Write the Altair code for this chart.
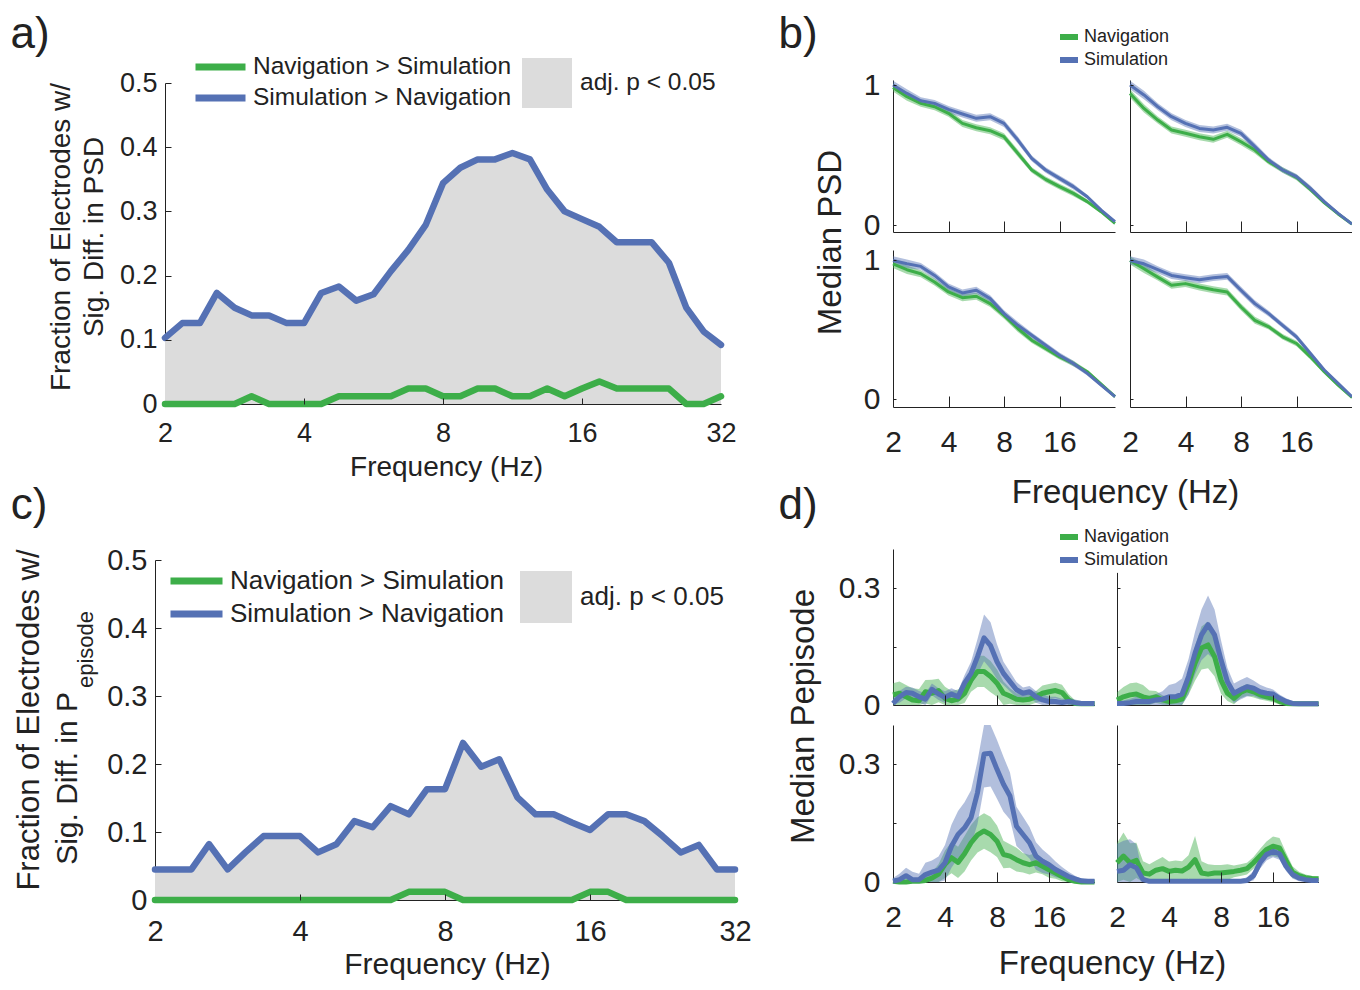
import altair as alt
import pandas as pd

FONT = "Liberation Sans"
INK = "#222222"
GREEN = "#3DAE49"
BLUE = "#5571B4"
SIGFILL = "#DCDCDC"
W, H, M = 1344, 974, 8

# ---------------- data ----------------
FREQ_8 = [2.00, 2.18, 2.38, 2.59, 2.83, 3.08, 3.36, 3.67, 4.00, 4.36, 4.76, 5.19, 5.66,
          6.17, 6.73, 7.34, 8.00, 8.72, 9.51, 10.37, 11.31, 12.34, 13.45, 14.67, 16.00,
          17.45, 19.03, 20.75, 22.63, 24.68, 26.91, 29.34, 32.00]
FREQ_4 = [2.00, 2.38, 2.83, 3.36, 4.00, 4.76, 5.66, 6.73, 8.00, 9.51, 11.31, 13.45,
          16.00, 19.03, 22.63, 26.91, 32.00]
FREQ_D = FREQ_8[:32]

NS = "Navigation > Simulation"
SN = "Simulation > Navigation"
SIG = "adj. p < 0.05"
CONDS = ["Navigation", "Simulation"]

# panel a: fraction of electrodes, PSD
a_sim = [0.103, 0.126, 0.126, 0.173, 0.150, 0.138, 0.138, 0.126, 0.126, 0.173, 0.183,
         0.161, 0.171, 0.207, 0.240, 0.279, 0.344, 0.368, 0.381, 0.381, 0.391, 0.381,
         0.334, 0.300, 0.288, 0.276, 0.252, 0.252, 0.252, 0.220, 0.150, 0.113, 0.092]
a_nav = [0, 0, 0, 0, 0, 0.012, 0, 0, 0, 0, 0.012, 0.012, 0.012, 0.012, 0.024, 0.024,
         0.012, 0.012, 0.024, 0.024, 0.012, 0.012, 0.024, 0.012, 0.024, 0.035, 0.024,
         0.024, 0.024, 0.024, 0, 0, 0.012]

# panel c: fraction of electrodes, Pepisode
c_sim = [0.045, 0.045, 0.045, 0.082, 0.045, 0.070, 0.094, 0.094, 0.094, 0.070, 0.082,
         0.116, 0.107, 0.138, 0.126, 0.163, 0.163, 0.231, 0.196, 0.207, 0.151, 0.126,
         0.126, 0.114, 0.103, 0.126, 0.126, 0.116, 0.094, 0.070, 0.081, 0.045, 0.045]
c_nav = [0, 0, 0, 0, 0, 0, 0, 0, 0, 0, 0, 0, 0, 0, 0.012, 0.012, 0.012, 0, 0, 0, 0, 0,
         0, 0, 0.012, 0.012, 0, 0, 0, 0, 0, 0, 0]

# panel b: median PSD (4 example electrodes)
b_tl_nav = [0.983, 0.917, 0.869, 0.845, 0.798, 0.726, 0.695, 0.674, 0.631, 0.512, 0.393,
            0.326, 0.274, 0.226, 0.167, 0.095, 0.012]
b_tl_sim = [1.000, 0.940, 0.888, 0.869, 0.826, 0.793, 0.762, 0.774, 0.726, 0.607, 0.476,
            0.393, 0.333, 0.274, 0.202, 0.107, 0.024]
b_tr_nav = [0.940, 0.833, 0.750, 0.679, 0.655, 0.631, 0.612, 0.648, 0.595, 0.536, 0.452,
            0.393, 0.340, 0.255, 0.160, 0.079, 0.007]
b_tr_sim = [1.000, 0.929, 0.845, 0.774, 0.726, 0.690, 0.679, 0.698, 0.655, 0.560, 0.464,
            0.393, 0.345, 0.262, 0.167, 0.083, 0.007]
b_bl_nav = [0.976, 0.933, 0.904, 0.845, 0.773, 0.732, 0.742, 0.689, 0.605, 0.510, 0.426,
            0.366, 0.306, 0.258, 0.199, 0.110, 0.019]
b_bl_sim = [1.000, 0.976, 0.957, 0.892, 0.809, 0.766, 0.785, 0.725, 0.617, 0.533, 0.462,
            0.390, 0.318, 0.258, 0.187, 0.103, 0.019]
b_br_nav = [1.000, 0.940, 0.880, 0.821, 0.833, 0.809, 0.789, 0.773, 0.665, 0.569, 0.522,
            0.450, 0.402, 0.306, 0.199, 0.103, 0.014]
b_br_sim = [1.000, 0.976, 0.933, 0.892, 0.876, 0.861, 0.876, 0.885, 0.785, 0.689, 0.617,
            0.533, 0.450, 0.330, 0.211, 0.115, 0.019]
b_err = [0.030, 0.030, 0.025, 0.025, 0.025, 0.025, 0.025, 0.025, 0.025, 0.025, 0.020,
         0.020, 0.020, 0.020, 0.015, 0.012, 0.010]

# panel d: median Pepisode (4 example electrodes)
d_tl_sim = [0.004, 0.021, 0.032, 0.030, 0.021, 0.015, 0.040, 0.028, 0.020, 0.028, 0.021,
            0.056, 0.081, 0.124, 0.172, 0.152, 0.111, 0.081, 0.060, 0.039, 0.030, 0.034,
            0.021, 0.013, 0.009, 0.009, 0.006, 0.009, 0.006, 0.004, 0.004, 0.004]
d_tl_nav = [0.026, 0.030, 0.021, 0.013, 0.011, 0.034, 0.030, 0.037, 0.017, 0.011, 0.015,
            0.030, 0.064, 0.086, 0.086, 0.073, 0.056, 0.030, 0.023, 0.015, 0.013, 0.015,
            0.021, 0.030, 0.034, 0.037, 0.032, 0.013, 0.004, 0.003, 0.003, 0.003]
d_tr_sim = [0.004, 0.004, 0.006, 0.009, 0.009, 0.009, 0.013, 0.015, 0.021, 0.021, 0.028,
            0.073, 0.133, 0.180, 0.206, 0.180, 0.116, 0.060, 0.030, 0.039, 0.047, 0.043,
            0.034, 0.030, 0.028, 0.017, 0.009, 0.004, 0.003, 0.003, 0.003, 0.003]
d_tr_nav = [0.013, 0.021, 0.026, 0.028, 0.021, 0.017, 0.021, 0.013, 0.009, 0.011, 0.015,
            0.056, 0.107, 0.146, 0.154, 0.124, 0.064, 0.030, 0.017, 0.032, 0.039, 0.034,
            0.026, 0.021, 0.017, 0.009, 0.004, 0.003, 0.003, 0.003, 0.003, 0.003]
d_bl_sim = [0.002, 0.006, 0.016, 0.006, 0.006, 0.019, 0.025, 0.030, 0.049, 0.091, 0.121,
            0.138, 0.164, 0.228, 0.326, 0.328, 0.287, 0.249, 0.219, 0.142, 0.121, 0.100,
            0.066, 0.053, 0.044, 0.032, 0.023, 0.014, 0.008, 0.003, 0.002, 0.002]
d_bl_nav = [0.002, 0.000, 0.000, 0.002, 0.002, 0.004, 0.010, 0.020, 0.045, 0.062, 0.050,
            0.072, 0.100, 0.120, 0.130, 0.121, 0.104, 0.070, 0.066, 0.057, 0.049, 0.044,
            0.049, 0.040, 0.031, 0.023, 0.014, 0.006, 0.002, 0.000, 0.000, 0.000]
d_br_sim = [0.027, 0.030, 0.044, 0.036, 0.006, 0.002, 0.002, 0.002, 0.002, 0.002, 0.002,
            0.002, 0.002, 0.002, 0.002, 0.002, 0.002, 0.002, 0.002, 0.002, 0.004, 0.016,
            0.049, 0.070, 0.078, 0.072, 0.040, 0.019, 0.010, 0.006, 0.004, 0.004]
d_br_nav = [0.049, 0.066, 0.049, 0.055, 0.023, 0.020, 0.030, 0.034, 0.027, 0.030, 0.028,
            0.038, 0.057, 0.023, 0.020, 0.023, 0.023, 0.025, 0.027, 0.030, 0.034, 0.049,
            0.066, 0.083, 0.091, 0.087, 0.055, 0.025, 0.016, 0.011, 0.009, 0.008]

d_tl_sim_err = [0.015, 0.015, 0.015, 0.015, 0.015, 0.015, 0.015, 0.015, 0.015, 0.015, 0.015,
                0.020, 0.030, 0.045, 0.060, 0.060, 0.045, 0.030, 0.025, 0.020, 0.015, 0.015,
                0.015, 0.015, 0.012, 0.012, 0.010, 0.010, 0.008, 0.006, 0.006, 0.006]
d_tl_nav_err = [0.030, 0.030, 0.030, 0.030, 0.030, 0.030, 0.035, 0.030, 0.030, 0.025, 0.025,
                0.025, 0.030, 0.040, 0.040, 0.040, 0.035, 0.030, 0.020, 0.015, 0.015, 0.015,
                0.015, 0.020, 0.020, 0.020, 0.020, 0.015, 0.008, 0.005, 0.005, 0.005]
d_tr_sim_err = [0.008, 0.008, 0.010, 0.012, 0.015, 0.015, 0.015, 0.020, 0.030, 0.035, 0.040,
                0.045, 0.055, 0.065, 0.075, 0.065, 0.050, 0.035, 0.025, 0.025, 0.025, 0.020,
                0.018, 0.015, 0.012, 0.010, 0.008, 0.006, 0.005, 0.005, 0.005, 0.005]
d_tr_nav_err = [0.020, 0.025, 0.030, 0.030, 0.030, 0.020, 0.015, 0.012, 0.010, 0.010, 0.015,
                0.030, 0.045, 0.055, 0.060, 0.050, 0.035, 0.020, 0.015, 0.015, 0.015, 0.015,
                0.012, 0.010, 0.010, 0.008, 0.006, 0.005, 0.005, 0.005, 0.005, 0.005]
d_bl_sim_err = [0.008, 0.015, 0.020, 0.020, 0.015, 0.030, 0.030, 0.035, 0.045, 0.055, 0.060,
                0.065, 0.070, 0.080, 0.085, 0.085, 0.075, 0.070, 0.060, 0.050, 0.045, 0.040,
                0.035, 0.030, 0.025, 0.020, 0.015, 0.012, 0.008, 0.005, 0.005, 0.005]
d_bl_nav_err = [0.005, 0.005, 0.005, 0.005, 0.005, 0.008, 0.015, 0.025, 0.035, 0.040, 0.040,
                0.045, 0.045, 0.045, 0.045, 0.045, 0.040, 0.035, 0.030, 0.030, 0.025, 0.025,
                0.025, 0.020, 0.020, 0.015, 0.012, 0.010, 0.006, 0.004, 0.004, 0.004]
d_br_sim_err = [0.070, 0.075, 0.065, 0.060, 0.010, 0.004, 0.004, 0.004, 0.004, 0.004, 0.004,
                0.004, 0.004, 0.004, 0.004, 0.004, 0.004, 0.004, 0.004, 0.005, 0.008, 0.012,
                0.015, 0.015, 0.015, 0.015, 0.012, 0.010, 0.008, 0.006, 0.005, 0.005]
d_br_nav_err = [0.050, 0.060, 0.050, 0.045, 0.030, 0.025, 0.025, 0.030, 0.025, 0.025, 0.025,
                0.030, 0.060, 0.030, 0.025, 0.020, 0.020, 0.020, 0.015, 0.015, 0.015, 0.015,
                0.018, 0.020, 0.025, 0.025, 0.020, 0.015, 0.010, 0.008, 0.006, 0.006]


# ---------------- helpers ----------------
def xs(x0, x1, dmax):
    return alt.Scale(type="log", base=2, domain=[2, dmax], range=[x0 - M, x1 - M], nice=False)


def ys(y0, y1, dom, clamp=False):
    return alt.Scale(type="linear", domain=dom, range=[y0 - M, y1 - M], nice=False,
                     zero=False, clamp=clamp)


BASE = dict(grid=False, labelFont=FONT, labelColor=INK, titleFont=FONT, titleColor=INK,
            titleFontWeight="normal", domainColor=INK, tickColor=INK, domainWidth=1,
            tickWidth=1, labelFlush=False, labelOverlap=False)


def x_label_axis(axis_y, values, size, pad, labels=True, title=None, tpos=None, tsize=None):
    kw = dict(BASE, orient="bottom", offset=(axis_y - M) - H, values=values, ticks=False,
              tickSize=0, labels=labels, labelFontSize=size, labelPadding=pad,
              labelBaseline="middle", format="d", domain=True, zindex=0)
    if title:
        kw.update(title=title, titleX=tpos[0] - M, titleY=tpos[1] - axis_y, titleFontSize=tsize,
                  titleAlign="center", titleBaseline="middle", titleAngle=0)
    else:
        kw["title"] = None
    return alt.Axis(**kw)


def x_tick_axis(axis_y, values, size):
    return alt.Axis(**dict(BASE, orient="top", offset=-(axis_y - M), values=values, ticks=True,
                           tickSize=size, labels=False, domain=False, title=None, zindex=1))


def y_label_axis(axis_x, values, size, pad, labels=True, title=None, tpos=None, tsize=None):
    kw = dict(BASE, orient="left", offset=-(axis_x - M), values=values, ticks=False,
              tickSize=0, labels=labels, labelFontSize=size, labelPadding=pad,
              format="~g", domain=True, zindex=0)
    if title:
        kw.update(title=title, titleX=tpos[0] - axis_x, titleY=tpos[1] - M, titleFontSize=tsize,
                  titleAlign="center", titleBaseline="middle", titleAngle=270)
    else:
        kw["title"] = None
    return alt.Axis(**kw)


def y_tick_axis(axis_x, values, size):
    return alt.Axis(**dict(BASE, orient="right", offset=(axis_x - M) - W, values=values,
                           ticks=True, tickSize=size, labels=False, domain=False, title=None,
                           zindex=1))


def text_layer(txt, x, y, size, angle=0, align="center"):
    return alt.Chart(pd.DataFrame({"t": [txt]})).mark_text(
        font=FONT, fontSize=size, color=INK, angle=angle, align=align, baseline="middle"
    ).encode(text="t:N", x=alt.value(x - M), y=alt.value(y - M))


def line_legend(x, y, swatch, lw, rowh, fsize, loff):
    return alt.Legend(orient="none", legendX=x - M, legendY=y - M, title=None,
                      symbolType="stroke", symbolSize=swatch * swatch, symbolStrokeWidth=lw,
                      clipHeight=rowh, labelFont=FONT, labelFontSize=fsize, labelColor=INK,
                      labelOffset=loff, labelLimit=500, padding=0, rowPadding=0,
                      symbolOpacity=1)


def fill_legend(x, y, box, fsize, loff):
    return alt.Legend(orient="none", legendX=x - M, legendY=y - M, title=None,
                      symbolType="square", symbolSize=box * box, symbolStrokeWidth=0,
                      labelFont=FONT, labelFontSize=fsize, labelColor=INK, labelOffset=loff,
                      labelLimit=500, padding=0, symbolOpacity=1)


def sig_panel(freq, sim, nav, box, tick_font, xpad, tpos, tsize, lw, lleg, fleg):
    x0, x1, y0, y1 = box
    xsc = xs(x0, x1, 32)
    ysc = ys(y0, y1, [0, 0.5])
    df_area = pd.DataFrame({"f": freq, "v": sim, "sig": [SIG] * len(freq)})
    df_lines = pd.DataFrame({
        "f": freq + freq,
        "v": nav + sim,
        "s": [NS] * len(freq) + [SN] * len(freq),
    })
    area = alt.Chart(df_area).mark_area(opacity=1).encode(
        x=alt.X("f:Q", scale=xsc,
                axis=x_label_axis(y0, [2, 4, 8, 16, 32], tick_font, xpad, True,
                                  "Frequency (Hz)", tpos, tsize)),
        y=alt.Y("v:Q", scale=ysc, stack=None,
                axis=y_label_axis(x0, [0, 0.1, 0.2, 0.3, 0.4, 0.5], tick_font, 8)),
        y2=alt.Y2Datum(0),
        color=alt.Color("sig:N", scale=alt.Scale(domain=[SIG], range=[SIGFILL]), legend=fleg),
    )
    lines = alt.Chart(df_lines).mark_line(strokeWidth=lw, strokeJoin="round",
                                          strokeCap="round").encode(
        x=alt.X("f:Q", scale=xsc, axis=x_tick_axis(y0, [4, 8, 16], 6)),
        y=alt.Y("v:Q", scale=ysc, axis=y_tick_axis(x0, [0.1, 0.2, 0.3, 0.4, 0.5], 6)),
        color=alt.Color("s:N", scale=alt.Scale(domain=[NS, SN], range=[GREEN, BLUE]),
                        legend=lleg),
    )
    return [area, lines]


def small_panel(freq, nav, sim, nav_err, sim_err, xsc, ysc, xl, xt, yl, yt, lw, leg=None):
    rows = []
    for cond, vals, errs in (("Navigation", nav, nav_err), ("Simulation", sim, sim_err)):
        for f, v, e in zip(freq, vals, errs):
            rows.append({"f": f, "v": v, "lo": max(v - e, 0.0), "hi": v + e, "cond": cond})
    df = pd.DataFrame(rows)
    cs = alt.Scale(domain=CONDS, range=[GREEN, BLUE])
    band = alt.Chart(df).mark_area(opacity=0.45).encode(
        x=alt.X("f:Q", scale=xsc, axis=xl),
        y=alt.Y("lo:Q", scale=ysc, stack=None, axis=yl),
        y2="hi:Q",
        color=alt.Color("cond:N", scale=cs, legend=None),
    )
    line = alt.Chart(df).mark_line(strokeWidth=lw, strokeJoin="round").encode(
        x=alt.X("f:Q", scale=xsc, axis=xt),
        y=alt.Y("v:Q", scale=ysc, axis=yt),
        color=alt.Color("cond:N", scale=cs, legend=leg),
    )
    return [band, line]


layers = []

# ---------------- panel a ----------------
layers += sig_panel(FREQ_8, a_sim, a_nav, (165, 721, 404, 83), 27, 29, (446, 467), 28, 6.5,
                    line_legend(192, 51.5, 50, 7, 31, 24.5, 4),
                    fill_legend(522, 58, 50, 24.5, 8))

# ---------------- panel c ----------------
layers += sig_panel(FREQ_8, c_sim, c_nav, (155, 735, 900, 560), 29, 31, (447, 964), 30, 6.5,
                    line_legend(167, 564.5, 52, 7, 33, 26, 4),
                    fill_legend(520, 571, 52, 26, 8))

# ---------------- panel b ----------------
B_COLS = [(893, 1115), (1130, 1352)]
B_ROWS = [(232, 80, [-0.05, 1.036]), (407, 250, [-0.055, 1.075])]
b_series = [[(b_tl_nav, b_tl_sim), (b_tr_nav, b_tr_sim)],
            [(b_bl_nav, b_bl_sim), (b_br_nav, b_br_sim)]]
for r, (ry0, ry1, rdom) in enumerate(B_ROWS):
    for c, (cx0, cx1) in enumerate(B_COLS):
        nav, sim = b_series[r][c]
        xsc = xs(cx0, cx1, 32)
        ysc = ys(ry0, ry1, rdom)
        xl = x_label_axis(ry0, [2, 4, 8, 16], 30, 35, labels=(r == 1),
                          title=("Frequency (Hz)" if (r == 1 and c == 0) else None),
                          tpos=(1125, 492), tsize=33)
        xt = x_tick_axis(ry0, [4, 8, 16], 11)
        yl = y_label_axis(cx0, [0, 1], 30, 13, labels=(c == 0),
                          title=("Median PSD" if (r == 0 and c == 0) else None),
                          tpos=(830, 242), tsize=33)
        yt = y_tick_axis(cx0, [0, 1], 3)
        leg = line_legend(1057, 25.5, 18, 6, 23, 18, 3) if (r == 0 and c == 0) else None
        layers += small_panel(FREQ_4, nav, sim, b_err, b_err, xsc, ysc, xl, xt, yl, yt, 3, leg)

# ---------------- panel d ----------------
D_COLS = [(893, 1094.5), (1117, 1318.5)]
d_series = [[(d_tl_nav, d_tl_sim, d_tl_nav_err, d_tl_sim_err, 705, 549, 0.4),
             (d_tr_nav, d_tr_sim, d_tr_nav_err, d_tr_sim_err, 705, 572.4, 0.34)],
            [(d_bl_nav, d_bl_sim, d_bl_nav_err, d_bl_sim_err, 882, 725, 0.4),
             (d_br_nav, d_br_sim, d_br_nav_err, d_br_sim_err, 882, 725, 0.4)]]
for r in range(2):
    for c, (cx0, cx1) in enumerate(D_COLS):
        nav, sim, ne, se, ry0, ry1, ymax = d_series[r][c]
        xsc = xs(cx0, cx1, 29.34)
        ysc = ys(ry0, ry1, [0, ymax], clamp=True)
        xl = x_label_axis(ry0, [2, 4, 8, 16], 30, 35, labels=(r == 1),
                          title=("Frequency (Hz)" if (r == 1 and c == 0) else None),
                          tpos=(1112, 963), tsize=33)
        xt = x_tick_axis(ry0, [4, 8, 16], 10)
        yl = y_label_axis(cx0, [0, 0.3], 30, 13, labels=(c == 0),
                          title=("Median Pepisode" if (r == 0 and c == 0) else None),
                          tpos=(803, 716), tsize=33)
        yt = y_tick_axis(cx0, [0.15, 0.3], 3)
        leg = line_legend(1057, 525.5, 18, 6, 23, 18, 3) if (r == 0 and c == 0) else None
        layers += small_panel(FREQ_D, nav, sim, ne, se, xsc, ysc, xl, xt, yl, yt, 5, leg)

# ---------------- text: panel letters and y titles ----------------
layers += [
    text_layer("a)", 30, 35, 44),
    text_layer("b)", 798, 35, 44),
    text_layer("c)", 29, 506, 44),
    text_layer("d)", 798, 506, 44),
    text_layer("Fraction of Electrodes w/", 62, 237, 28, angle=270),
    text_layer("Sig. Diff. in PSD", 95, 237, 28, angle=270),
    text_layer("Fraction of Electrodes w/", 30, 720, 31, angle=270),
    text_layer("Sig. Diff. in P", 68, 692, 30, angle=270, align="right"),
    text_layer("episode", 86, 688, 22, angle=270, align="left"),
]

chart = alt.layer(*layers).resolve_scale(
    x="independent", y="independent", color="independent"
).properties(
    width=W, height=H, autosize=alt.AutoSizeParams(type="none"), padding=0
).configure_view(stroke=None)

chart.save("out.html", embed_options={"renderer": "svg", "actions": False})
